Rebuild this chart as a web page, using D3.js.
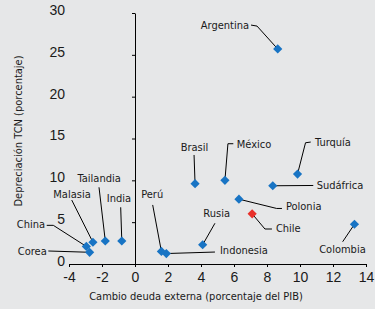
<!DOCTYPE html>
<html>
<head>
<meta charset="utf-8">
<script src="https://d3js.org/d3.v7.min.js"></script>
<style>
  body { margin: 0; background: #e6e7e8; }
  svg { display: block; font-family: "DejaVu Sans Condensed", "Liberation Sans Narrow", sans-serif; }
</style>
</head>
<body>
<div id="chart"></div>
<script>
//Data
var countries = ["Argentina", "Brasil", "México", "Turquía", "Sudáfrica", "Polonia", "Chile", "Colombia",
                 "Rusia", "Indonesia", "Perú", "India", "Tailandia", "Malasia", "China", "Corea"];
var debtChange = [8.65, 3.64, 5.45, 9.85, 8.35, 6.3, 7.1, 13.3, 4.1, 1.9, 1.6, -0.8, -1.8, -2.55, -2.95, -2.75];
var depreciation = [25.7, 9.6, 10.0, 10.75, 9.35, 7.75, 6.0, 4.75, 2.3, 1.25, 1.5, 2.75, 2.75, 2.6, 2.1, 1.4];
var highlight = ["Chile"];
var xTicks = [-4, -2, 0, 2, 4, 6, 8, 10, 12, 14];
var yTicks = [0, 5, 10, 15, 20, 25, 30];

//Label placement (offsets in px from the marker): text anchor, text offset, leader line points
var labelLayout = {
  "Argentina": {anchor: "end",    t: [-28.7, -24],  line: [[-26.7, -23.9], [-20.7, -22.9], [0, 0]]},
  "Brasil":    {anchor: "middle", t: [-0.6, -37],   line: [[-1, -28.7], [0, 0]]},
  "México":    {anchor: "start",  t: [11.8, -36.4], line: [[8.4, -36.6], [3, -36.6], [0, 0]]},
  "Turquía":   {anchor: "start",  t: [17.5, -32.3], line: [[13.2, -32], [8, -31.3], [0, 0]]},
  "Sudáfrica": {anchor: "start",  t: [43.9, -0.8],  line: [[0, 0], [40.5, -0.3]]},
  "Polonia":   {anchor: "start",  t: [47, 7.4],     line: [[0, 0], [37.7, 9.3], [43, 9.3]]},
  "Chile":     {anchor: "start",  t: [23.8, 13.9],  line: [[0, 0], [12.8, 15.2], [19.8, 15.2]]},
  "Colombia":  {anchor: "middle", t: [-12, 24.5],   line: [[-11.8, 17.5], [0, 0]]},
  "Rusia":     {anchor: "middle", t: [14, -31.5],   line: [[12.3, -21.5], [0, 0]]},
  "Indonesia": {anchor: "start",  t: [53.6, -3.5],  line: [[48.6, -1.5], [0, 0]]},
  "Perú":      {anchor: "middle", t: [-9.2, -57],   line: [[-8.7, -46.5], [0, 0]]},
  "India":     {anchor: "middle", t: [-2.8, -42.7], line: [[-1.1, -33.7], [0, 0]]},
  "Tailandia": {anchor: "middle", t: [-6.1, -62.7], line: [[-6.3, -53.7], [0, 0]]},
  "Malasia":   {anchor: "middle", t: [-20.9, -47.9], line: [[-21.2, -42.2], [0, 0]]},
  "China":     {anchor: "end",    t: [-41.3, -22.4], line: [[-39.6, -21.1], [-33, -21.1], [0, 0]]},
  "Corea":     {anchor: "end",    t: [-42.9, -1.6], line: [[-41.3, -1.3], [0, 0]]}
};

var width = 375,
    height = 309;

var svg = d3.select("#chart")
            .append("svg")
            .attr("width", width)
            .attr("height", height);

svg.append("rect").attr("width", width).attr("height", height).attr("fill", "#e6e7e8");

//Scales
var x = d3.scaleLinear().domain([-4, 14]).range([69, 366]);
var y = d3.scaleLinear().domain([0, 30]).range([264, 13]);

var data = countries.map(function(c, i) {
  return {name: c, x: debtChange[i], y: depreciation[i]};
});

//Axes (y axis sits on x = 0, labels pushed to the left edge)
var yAxis = svg.append("g")
               .attr("transform", "translate(" + x(0) + ",0)")
               .call(d3.axisLeft(y).tickValues(yTicks).tickSize(3).tickSizeOuter(0));
yAxis.selectAll("text")
     .attr("x", 65 - x(0))
     .attr("dy", "0.1em")
     .attr("font-size", 14)
     .attr("font-family", null)
     .attr("fill", "#1a1a1a");

var xAxis = svg.append("g")
               .attr("transform", "translate(0," + y(0) + ")")
               .call(d3.axisBottom(x).tickValues(xTicks).tickSize(3).tickSizeOuter(0).tickFormat(function(d) { return d < 0 ? "-" + Math.abs(d) : d; }));
xAxis.selectAll("text")
     .attr("y", 8)
     .attr("font-size", 14)
     .attr("font-family", null)
     .attr("fill", "#1a1a1a");

svg.selectAll(".domain, .tick line").attr("stroke", "#000");

//Axis titles
svg.append("text")
   .attr("x", 196)
   .attr("y", 300)
   .attr("text-anchor", "middle")
   .attr("font-size", 11)
   .attr("fill", "#1a1a1a")
   .text("Cambio deuda externa (porcentaje del PIB)");

svg.append("text")
   .attr("transform", "translate(22,131) rotate(-90)")
   .attr("text-anchor", "middle")
   .attr("font-size", 11)
   .attr("fill", "#1a1a1a")
   .text("Depreciación TCN (porcentaje)");

//Leader lines
var line = d3.line();
svg.selectAll(".leader")
   .data(data)
   .enter()
   .append("path")
   .attr("class", "leader")
   .attr("fill", "none")
   .attr("stroke", "#000")
   .attr("stroke-width", 1)
   .attr("d", function(d) {
     var px = x(d.x), py = y(d.y);
     return line(labelLayout[d.name].line.map(function(p) { return [px + p[0], py + p[1]]; }));
   });

//Markers
svg.selectAll(".point")
   .data(data)
   .enter()
   .append("path")
   .attr("class", "point")
   .attr("d", d3.symbol().type(d3.symbolDiamond2).size(54))
   .attr("transform", function(d) { return "translate(" + x(d.x) + "," + y(d.y) + ")"; })
   .attr("fill", function(d) { return highlight.indexOf(d.name) >= 0 ? "#e8302a" : "#1874c4"; });

//Country labels
svg.selectAll(".label")
   .data(data)
   .enter()
   .append("text")
   .attr("class", "label")
   .attr("x", function(d) { return x(d.x) + labelLayout[d.name].t[0]; })
   .attr("y", function(d) { return y(d.y) + labelLayout[d.name].t[1]; })
   .attr("dy", "0.35em")
   .attr("text-anchor", function(d) { return labelLayout[d.name].anchor; })
   .attr("font-size", 11)
   .attr("fill", "#1a1a1a")
   .text(function(d) { return d.name; });
</script>
</body>
</html>
